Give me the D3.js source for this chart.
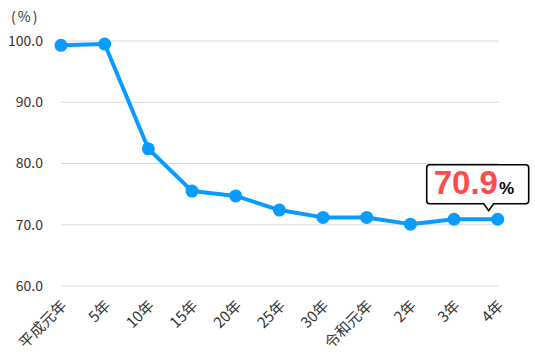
<!DOCTYPE html>
<html>
<head>
<meta charset="utf-8">
<script src="https://cdn.jsdelivr.net/npm/d3@7"></script>
<style>
  body { margin: 0; background: #fff; }
  svg { display: block; font-family: "Noto Sans CJK JP", "Noto Sans", sans-serif; }
</style>
</head>
<body>
<svg id="chart" width="535" height="364"></svg>
<script>
// categories (Heisei / Reiwa years)
const years = ["平成元年", "5年", "10年", "15年", "20年", "25年", "30年", "令和元年", "2年", "3年", "4年"];
// rate (%)
const rates = [99.3, 99.5, 82.4, 75.5, 74.7, 72.4, 71.2, 71.2, 70.1, 70.9, 70.9];
const yTicks = [60, 70, 80, 90, 100];
const unitLabel = "(%)";

const svg = d3.select("#chart");

const xScale = d3.scalePoint()
    .domain(years)
    .range([61, 497.7])
    .padding(0);

const yScale = d3.scaleLinear()
    .domain([60, 100])
    .range([286, 41]);

// gridlines
svg.append("g")
    .selectAll("line")
    .data(yTicks)
    .join("line")
    .attr("x1", 61)
    .attr("x2", 499)
    .attr("y1", d => yScale(d))
    .attr("y2", d => yScale(d))
    .attr("stroke", "#d9d9d9")
    .attr("stroke-width", 1);

// y axis labels
const yAxis = svg.append("g")
    .attr("transform", "translate(43,0)")
    .call(d3.axisLeft(yScale).tickValues(yTicks).tickFormat(d3.format(".1f")).tickSize(0).tickPadding(0));
yAxis.select(".domain").remove();
yAxis.selectAll("text")
    .attr("fill", "#333")
    .style("font-size", "14px")
    .style("font-family", "'Noto Sans CJK JP', sans-serif");

svg.append("text")
    .attr("x", 11)
    .attr("y", 22)
    .text(unitLabel)
    .attr("fill", "#333")
    .style("letter-spacing", "2px")
    .style("font-size", "14px");

// x axis labels, rotated
svg.append("g")
    .selectAll("text")
    .data(years)
    .join("text")
    .attr("transform", d => `translate(${xScale(d) + 3},${303}) rotate(-45)`)
    .attr("text-anchor", "end")
    .attr("dy", "0.35em")
    .attr("fill", "#333")
    .style("font-size", "15px")
    .text(d => d);

// line
const line = d3.line()
    .x((d, i) => xScale(years[i]))
    .y(d => yScale(d));

svg.append("path")
    .datum(rates)
    .attr("d", line)
    .attr("fill", "none")
    .attr("stroke", "#0a9bff")
    .attr("stroke-width", 4)
    .attr("stroke-linejoin", "round");

svg.append("g")
    .selectAll("circle")
    .data(rates)
    .join("circle")
    .attr("cx", (d, i) => xScale(years[i]))
    .attr("cy", d => yScale(d))
    .attr("r", 6.5)
    .attr("fill", "#0a9bff");

// callout on last value
const lastIdx = rates.length - 1;
const px = xScale(years[lastIdx]);
const py = yScale(rates[lastIdx]);
const bx0 = px - 71, bx1 = px + 31, by0 = py - 54.5, by1 = py - 15.5, r = 3;
const callout = d3.path();
callout.moveTo(bx0 + r, by0);
callout.lineTo(bx1 - r, by0);
callout.quadraticCurveTo(bx1, by0, bx1, by0 + r);
callout.lineTo(bx1, by1 - r);
callout.quadraticCurveTo(bx1, by1, bx1 - r, by1);
callout.lineTo(px - 4, by1);
callout.lineTo(px - 9, py - 8.5);
callout.lineTo(px - 14, by1);
callout.lineTo(bx0 + r, by1);
callout.quadraticCurveTo(bx0, by1, bx0, by1 - r);
callout.lineTo(bx0, by0 + r);
callout.quadraticCurveTo(bx0, by0, bx0 + r, by0);
callout.closePath();

svg.append("path")
    .attr("d", callout.toString())
    .attr("fill", "#fff")
    .attr("stroke", "#000")
    .attr("stroke-width", 1.6);

const label = svg.append("text")
    .attr("x", px - 64)
    .attr("y", py - 25)
    .style("font-family", "'Liberation Sans', Arial, sans-serif")
    .style("font-weight", "bold");
label.append("tspan")
    .attr("fill", "#ff4b4b")
    .style("font-size", "33px")
    .text(d3.format(".1f")(rates[lastIdx]));
label.append("tspan")
    .attr("fill", "#000")
    .attr("dx", 1)
    .style("font-size", "17px")
    .text("%");
</script>
</body>
</html>
